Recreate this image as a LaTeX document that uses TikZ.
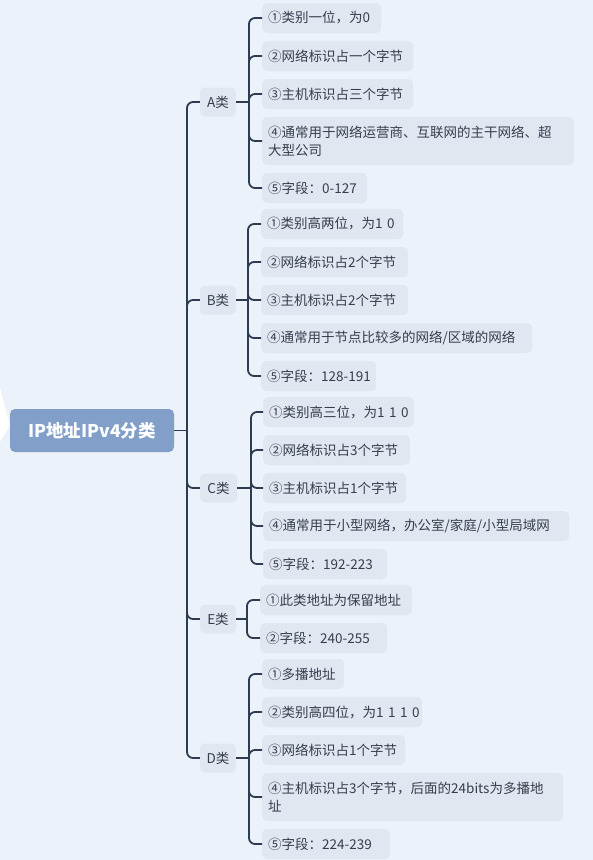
\documentclass[tikz,border=0pt]{standalone}
\usepackage{fontspec}
\setmainfont{Noto Sans CJK SC}
\definecolor{bgc}{HTML}{EBF2FA}
\definecolor{leafc}{HTML}{E0E7F0}
\definecolor{txtc}{HTML}{353E4E}
\definecolor{linec}{HTML}{2E3C52}
\definecolor{rootc}{HTML}{819FC9}
\tikzset{
  leaf/.style={anchor=west, fill=leafc, rounded corners=5pt, inner xsep=6pt, inner ysep=0pt,
    minimum height=30pt, align=left, text=txtc, font=\fontsize{13.5}{18}\selectfont},
  cls/.style={fill=leafc, rounded corners=5pt, inner sep=0pt, minimum width=36pt,
    minimum height=29pt, text=txtc, font=\fontsize{13.5}{16}\selectfont},
  rootnode/.style={fill=rootc, rounded corners=5pt, inner sep=0pt, minimum width=164pt,
    minimum height=43pt, text=white, font=\fontsize{17.5}{20}\selectfont\bfseries},
  conn/.style={draw=linec, line width=1.8pt, rounded corners=6pt}
}
\begin{document}
\begin{tikzpicture}[x=1pt,y=-1pt]
\useasboundingbox (0,0) rectangle (593,860);
\fill[bgc] (0,0) rectangle (593,860);
\fill[white] (0,388) -- (10,425) -- (0,442) -- cycle;

% root and classes
\node[rootnode] (root) at (92,430.5) {IP地址IPv4分类};
\node[cls] (A) at (218,102) {A类};
\node[cls] (B) at (218,300) {B类};
\node[cls, minimum width=37pt] (C) at (218.5,488) {C类};
\node[cls] (E) at (218,619) {E类};
\node[cls] (D) at (218,758) {D类};

\coordinate (rj) at (187,430.5);
\coordinate (aj) at (249,102);
\coordinate (bj) at (248,300);
\coordinate (cj) at (251,488);
\coordinate (ej) at (247,619);
\coordinate (dj) at (249,758);

% A leaves
\node[leaf, text width=107pt] (a1) at (262,18) {\mbox{①类别一位，为0}};
\node[leaf, text width=139pt] (a2) at (262,56) {\mbox{②网络标识占一个字节}};
\node[leaf, text width=139pt] (a3) at (262,94) {\mbox{③主机标识占三个字节}};
\node[leaf, text width=300pt, minimum height=48pt] (a4) at (262,141) {\mbox{④通常用于网络运营商、互联网的主干网络、超}\\\mbox{大型公司}};
\node[leaf, text width=93pt] (a5) at (262,188) {\mbox{⑤字段：0-127}};

% B leaves
\node[leaf, text width=130pt] (b1) at (261,224) {\mbox{①类别高两位，为1 0}};
\node[leaf, text width=135pt] (b2) at (261,262) {\mbox{②网络标识占2个字节}};
\node[leaf, text width=135pt] (b3) at (261,300) {\mbox{③主机标识占2个字节}};
\node[leaf, text width=259pt] (b4) at (261,338) {\mbox{④通常用于节点比较多的网络/区域的网络}};
\node[leaf, text width=103pt] (b5) at (261,376) {\mbox{⑤字段：128-191}};

% C leaves
\node[leaf, text width=139pt] (c1) at (263,412) {\mbox{①类别高三位，为1 1 0}};
\node[leaf, text width=135pt] (c2) at (263,450) {\mbox{②网络标识占3个字节}};
\node[leaf, text width=131pt] (c3) at (263,488) {\mbox{③主机标识占1个字节}};
\node[leaf, text width=294pt] (c4) at (263,526) {\mbox{④通常用于小型网络，办公室/家庭/小型局域网}};
\node[leaf, text width=112pt] (c5) at (263,564) {\mbox{⑤字段：192-223}};

% E leaves
\node[leaf, text width=140pt] (e1) at (260,600) {\mbox{①此类地址为保留地址}};
\node[leaf, text width=115pt] (e2) at (260,638) {\mbox{②字段：240-255}};

% D leaves
\node[leaf, text width=70pt] (d1) at (262,674) {\mbox{①多播地址}};
\node[leaf, text width=148pt] (d2) at (262,712) {\mbox{②类别高四位，为1 1 1 0}};
\node[leaf, text width=131pt] (d3) at (262,750) {\mbox{③网络标识占1个字节}};
\node[leaf, text width=289pt, minimum height=48pt] (d4) at (262,797) {\mbox{④主机标识占3个字节，后面的24bits为多播地}\\\mbox{址}};
\node[leaf, text width=116pt] (d5) at (262,844) {\mbox{⑤字段：224-239}};

% connectors
\draw[conn] (root.east) -- (rj);
\foreach \k in {A,B,C,E,D} \draw[conn] (rj) |- (\k.west);
\draw[conn] (A.east) -- (aj);
\draw[conn] (B.east) -- (bj);
\draw[conn] (C.east) -- (cj);
\draw[conn] (E.east) -- (ej);
\draw[conn] (D.east) -- (dj);
\foreach \k in {a1,a2,a3,a4,a5} \draw[conn] (aj) |- (\k.west);
\foreach \k in {b1,b2,b3,b4,b5} \draw[conn] (bj) |- (\k.west);
\foreach \k in {c1,c2,c3,c4,c5} \draw[conn] (cj) |- (\k.west);
\foreach \k in {e1,e2} \draw[conn] (ej) |- (\k.west);
\foreach \k in {d1,d2,d3,d4,d5} \draw[conn] (dj) |- (\k.west);
\end{tikzpicture}
\end{document}
